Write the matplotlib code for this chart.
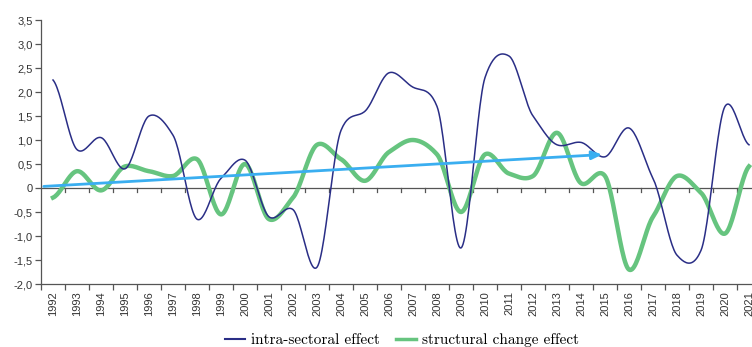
import numpy as np
import matplotlib
matplotlib.use("Agg")
import matplotlib.pyplot as plt

years = [str(y) for y in range(1992, 2022)]

intra = [2.25, 0.8, 1.05, 0.4, 1.5, 1.1, -0.65, 0.2, 0.58, -0.6,
         -0.45, -1.65, 1.2, 1.6, 2.4, 2.1, 1.7, -1.25, 2.3, 2.75,
         1.5, 0.9, 0.95, 0.65, 1.25, 0.2, -1.4, -1.3, 1.7, 0.9]

structural = [-0.2, 0.35, -0.05, 0.45, 0.35, 0.25, 0.6, -0.55, 0.5, -0.65,
              -0.2, 0.9, 0.6, 0.15, 0.75, 1.0, 0.7, -0.5, 0.7, 0.3,
              0.25, 1.15, 0.1, 0.25, -1.7, -0.6, 0.25, -0.1, -0.95, 0.45]

# trend arrow: start / end values
trend_start = 0.03
trend_end = 0.7
trend_end_year = "2015"

yticks = [3.5, 3.0, 2.5, 2.0, 1.5, 1.0, 0.5, 0, -0.5, -1.0, -1.5, -2.0]


def smooth(y, n=24, k=0.75):
    # cardinal spline through the points (like Excel "smoothed line")
    y = np.asarray(y, float)
    p = np.concatenate([[y[0]], y, [y[-1]]])
    m = k * (p[2:] - p[:-2]) / 2.0
    xs, ys = [], []
    t = np.linspace(0, 1, n, endpoint=False)
    h00 = 2 * t ** 3 - 3 * t ** 2 + 1
    h10 = t ** 3 - 2 * t ** 2 + t
    h01 = -2 * t ** 3 + 3 * t ** 2
    h11 = t ** 3 - t ** 2
    for i in range(len(y) - 1):
        xs.append(i + t)
        ys.append(h00 * y[i] + h10 * m[i] + h01 * y[i + 1] + h11 * m[i + 1])
    xs.append([len(y) - 1])
    ys.append([y[-1]])
    return np.concatenate(xs), np.concatenate(ys)


fig = plt.figure(figsize=(7.52, 3.47), dpi=100)
ax = fig.add_axes([41 / 752, 63 / 347, 720 / 752, 264 / 347])

x1, y1 = smooth(intra)
x2, y2 = smooth(structural)
ax.plot(x1, y1, color="#2a2e86", lw=1.1, label="intra-sectoral effect", zorder=3)
ax.plot(x2, y2, color="#66c47f", lw=3.2, label="structural change effect", zorder=2)

xe = years.index(trend_end_year)
ax.annotate("", xy=(xe, trend_end), xytext=(-0.5, trend_start),
            arrowprops=dict(arrowstyle="-|>,head_length=0.6,head_width=0.25",
                            color="#3aaef0", lw=2), zorder=4)

ax.axhline(0, color="#555555", lw=0.9, zorder=1)
for b in np.arange(0.5, len(years), 1):
    ax.plot([b, b], [0, -0.08], color="#555555", lw=0.9, zorder=1)

ax.set_xlim(-0.5, len(years) - 0.5)
ax.set_ylim(-2.0, 3.5)
ax.set_xticks(range(len(years)))
ax.set_xticklabels(years, rotation=90)
ax.set_xticks(np.arange(-0.5, len(years), 1), minor=True)
ax.tick_params(axis="x", which="major", length=0, pad=5)
ax.tick_params(axis="x", which="minor", length=4, color="#555555", width=0.9)
ax.set_yticks(yticks)
ax.set_yticklabels([("%.1f" % v).replace(".", ",") if v != 0 else "0" for v in yticks])
ax.tick_params(axis="y", length=4, color="#555555", width=0.9, pad=2)
for lab in ax.get_xticklabels() + ax.get_yticklabels():
    lab.set_fontfamily("Liberation Sans")
    lab.set_fontsize(8)
    lab.set_color("#333333")

for s in ["top", "right"]:
    ax.spines[s].set_visible(False)
for s in ["left", "bottom"]:
    ax.spines[s].set_color("#555555")
    ax.spines[s].set_linewidth(0.9)

leg = fig.legend(loc="center", bbox_to_anchor=(402 / 752, 1 - 340 / 347), ncol=2,
                 frameon=False, handlelength=1.3, handletextpad=0.4, columnspacing=1.1,
                 prop={"family": ["cmr10", "DejaVu Serif"], "size": 11})
leg.get_lines()[0].set_linewidth(1.5)
leg.get_lines()[1].set_linewidth(2.5)

fig.savefig("out.png", dpi=100)
